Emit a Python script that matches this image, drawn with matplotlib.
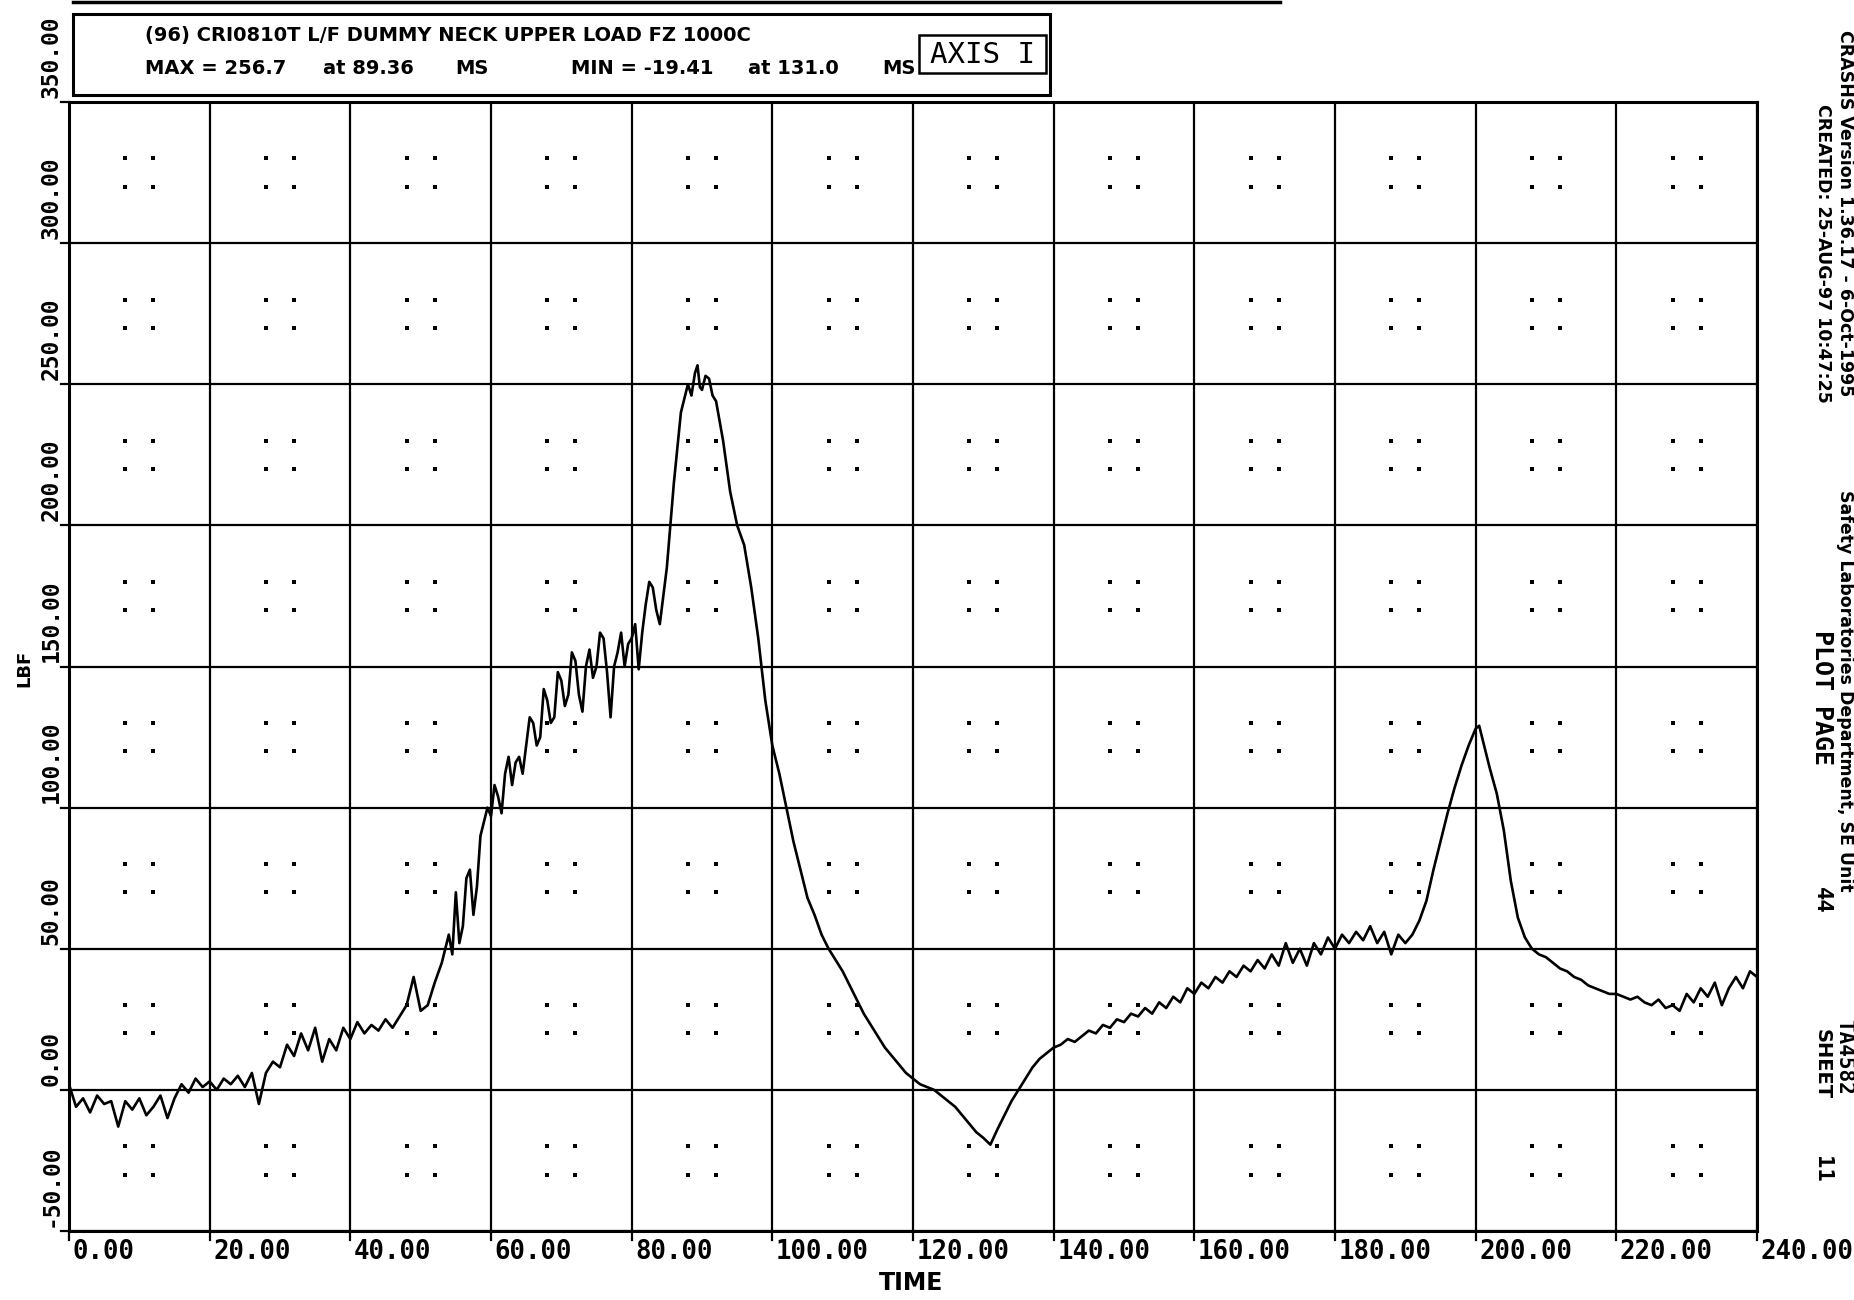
import matplotlib
matplotlib.use("Agg")
import matplotlib.pyplot as plt
from matplotlib.patches import Rectangle
from matplotlib.lines import Line2D
import numpy as np

# ---------------- data ----------------
time_ms = [0, 1, 2, 3, 4, 5, 6, 7, 8, 9, 10, 11, 12, 13, 14, 15, 16, 17, 18, 19,
           20, 21, 22, 23, 24, 25, 26, 27, 28, 29, 30, 31, 32, 33, 34, 35, 36, 37, 38, 39,
           40, 41, 42, 43, 44, 45, 46, 47, 48, 49, 50, 51, 52, 53,
           54, 54.5, 55, 55.5, 56, 56.5, 57, 57.5, 58, 58.5, 59, 59.5,
           60, 60.5, 61, 61.5, 62, 62.5, 63, 63.5, 64, 64.5, 65, 65.5, 66, 66.5, 67, 67.5,
           68, 68.5, 69, 69.5, 70, 70.5, 71, 71.5, 72, 72.5, 73, 73.5, 74, 74.5, 75, 75.5,
           76, 76.5, 77, 77.5, 78, 78.5, 79, 79.5, 80, 80.5, 81, 81.5, 82, 82.5, 83, 83.5,
           84, 84.5, 85, 86, 87, 88, 88.5, 89, 89.36, 89.7, 90, 90.5, 91, 91.5, 92, 93, 94, 95,
           96, 97, 98, 99,
           100, 101, 102, 103, 104, 105, 106, 107, 108, 109, 110, 111, 112, 113, 114, 115, 116, 117, 118, 119,
           120, 121, 122, 123, 124, 125, 126, 127, 128, 129, 130, 131, 132, 133, 134, 135, 136, 137, 138, 139,
           140, 141, 142, 143, 144, 145, 146, 147, 148, 149, 150, 151, 152, 153, 154, 155, 156, 157, 158, 159,
           160, 161, 162, 163, 164, 165, 166, 167, 168, 169, 170, 171, 172, 173, 174, 175, 176, 177, 178, 179,
           180, 181, 182, 183, 184, 185, 186, 187, 188, 189, 190, 191, 192, 193, 194, 195, 196, 197, 198, 199,
           200, 200.5, 201, 202, 203, 204, 205, 206, 207, 208, 209, 210, 211, 212, 213, 214, 215, 216, 217, 218, 219,
           220, 221, 222, 223, 224, 225, 226, 227, 228, 229, 230, 231, 232, 233, 234, 235, 236, 237, 238, 239, 240]

force_lbf = [2, -6, -3, -8, -2, -5, -4, -13, -4, -7, -3, -9, -6, -2, -10, -3, 2, -1, 4, 1,
             3, 0, 4, 2, 5, 1, 6, -5, 6, 10, 8, 16, 12, 20, 14, 22, 10, 18, 14, 22,
             18, 24, 20, 23, 21, 25, 22, 26, 30, 40, 28, 30, 38, 45,
             55, 48, 70, 52, 58, 75, 78, 62, 72, 90, 95, 100,
             97, 108, 104, 98, 112, 118, 108, 116, 118, 112, 122, 132, 130, 122, 125, 142,
             138, 130, 132, 148, 145, 136, 140, 155, 152, 140, 134, 150, 156, 146, 150, 162,
             160, 148, 132, 150, 155, 162, 150, 158, 160, 165, 149, 162, 172, 180, 178, 170,
             165, 175, 185, 215, 240, 250, 246, 254, 256.7, 249, 248, 253, 252, 246, 244, 230, 212, 200,
             193, 178, 160, 138,
             122, 112, 100, 88, 78, 68, 62, 55, 50, 46, 42, 37, 32, 27, 23, 19, 15, 12, 9, 6,
             4, 2, 1, 0, -2, -4, -6, -9, -12, -15, -17, -19.41, -14, -9, -4, 0, 4, 8, 11, 13,
             15, 16, 18, 17, 19, 21, 20, 23, 22, 25, 24, 27, 26, 29, 27, 31, 29, 33, 31, 36,
             34, 38, 36, 40, 38, 42, 40, 44, 42, 46, 43, 48, 44, 52, 45, 50, 44, 52, 48, 54,
             50, 55, 52, 56, 53, 58, 52, 56, 48, 55, 52, 55, 60, 67, 78, 88, 98, 107, 115, 122,
             128, 129, 124, 114, 105, 92, 74, 61, 54, 50, 48, 47, 45, 43, 42, 40, 39, 37, 36, 35, 34,
             34, 33, 32, 33, 31, 30, 32, 29, 30, 28, 34, 31, 36, 33, 38, 30, 36, 40, 36, 42, 40]

x_ticks = [0, 20, 40, 60, 80, 100, 120, 140, 160, 180, 200, 220, 240]
x_tick_labels = ["0.00", "20.00", "40.00", "60.00", "80.00", "100.00", "120.00",
                 "140.00", "160.00", "180.00", "200.00", "220.00", "240.00"]
y_ticks = [-50, 0, 50, 100, 150, 200, 250, 300, 350]
y_tick_labels = ["-50.00", "0.00", "50.00", "100.00", "150.00", "200.00",
                 "250.00", "300.00", "350.00"]

title_line = "(96) CRI0810T L/F DUMMY NECK UPPER LOAD FZ 1000C"
max_text = ["MAX = 256.7", "at 89.36", "MS"]
min_text = ["MIN = -19.41", "at 131.0", "MS"]

# ---------------- figure ----------------
W, H = 1854, 1300
fig = plt.figure(figsize=(W / 100, H / 100), dpi=100)
fig.patch.set_facecolor("white")

def fx(px):
    return px / W

def fy(py):
    return 1 - py / H

L, R, T, B = 69, 1757, 102, 1231
ax = fig.add_axes([fx(L), fy(B), (R - L) / W, (B - T) / H])
ax.set_xlim(0, 240)
ax.set_ylim(-50, 350)

MONO = ["DejaVu Sans Mono"]
SANS = ["DejaVu Sans"]

# major grid
for xv in x_ticks:
    ax.axvline(xv, color="black", lw=1.6, zorder=1)
for yv in y_ticks:
    ax.axhline(yv, color="black", lw=1.6, zorder=1)

# minor dotted grid points
dot_x = [20 * k + o for k in range(12) for o in (8, 12)]
dot_y = [50 * m + o for m in range(-1, 7) for o in (20, 30)]
DX, DY = np.meshgrid(dot_x, dot_y)
ax.plot(DX.ravel(), DY.ravel(), ls="none", marker="s", ms=2.2, color="black",
        mew=0, zorder=1)

# the curve
ax.plot(time_ms, force_lbf, color="black", lw=1.9, zorder=3)

ax.set_xticks([])
ax.set_yticks([])
for s in ax.spines.values():
    s.set_linewidth(2.2)
    s.set_color("black")

# tick labels
for xv, lab in zip(x_ticks, x_tick_labels):
    ax.text(xv + 0.5, -0.019, lab, transform=ax.get_xaxis_transform(),
            ha="left", va="center", fontsize=18.5, family=MONO, fontweight="bold",
            clip_on=False)
    ax.plot([xv, xv], [0, -0.008], transform=ax.get_xaxis_transform(),
            color="black", lw=1.6, clip_on=False)
for yv, lab in zip(y_ticks, y_tick_labels):
    ax.text(-0.0107, yv + 1.5, lab, transform=ax.get_yaxis_transform(),
            ha="left", va="center", rotation=90, rotation_mode="anchor",
            fontsize=16.5, family=MONO, fontweight="bold", clip_on=False)
    ax.plot([0, -0.005], [yv, yv], transform=ax.get_yaxis_transform(),
            color="black", lw=1.6, clip_on=False)

# axis titles
fig.text(fx(911), fy(1283), "TIME", ha="center", va="center", fontsize=17,
         family=SANS, fontweight="bold")
fig.text(fx(24), fy(668), "LBF", ha="center", va="center", fontsize=13,
         family=SANS, fontweight="bold", rotation=90)

# header box
fig.add_artist(Rectangle((fx(73), fy(95)), fx(1050) - fx(73), fy(14) - fy(95),
                         transform=fig.transFigure, fill=False, lw=2.2,
                         edgecolor="black"))
fig.add_artist(Line2D([fx(73), fx(1280)], [fy(2), fy(2)], transform=fig.transFigure,
                      color="black", lw=2.5))
fig.add_artist(Rectangle((fx(919), fy(73)), fx(1046) - fx(919), fy(35) - fy(73),
                         transform=fig.transFigure, fill=False, lw=1.8,
                         edgecolor="black"))
fig.text(fx(982), fy(55), "AXIS I", ha="center", va="center", fontsize=21,
         family=MONO)

HS = 14
HW = "bold"
fig.text(fx(145), fy(36), title_line, ha="left", va="center", fontsize=HS, family=SANS, fontweight=HW)
fig.text(fx(145), fy(68), max_text[0], ha="left", va="center", fontsize=HS, family=SANS, fontweight=HW)
fig.text(fx(323), fy(68), max_text[1], ha="left", va="center", fontsize=HS, family=SANS, fontweight=HW)
fig.text(fx(455), fy(68), max_text[2], ha="left", va="center", fontsize=HS, family=SANS, fontweight=HW)
fig.text(fx(571), fy(68), min_text[0], ha="left", va="center", fontsize=HS, family=SANS, fontweight=HW)
fig.text(fx(748), fy(68), min_text[1], ha="left", va="center", fontsize=HS, family=SANS, fontweight=HW)
fig.text(fx(882), fy(68), min_text[2], ha="left", va="center", fontsize=HS, family=SANS, fontweight=HW)

# right side annotations (rotated, reading top to bottom)
def vtext(x, y, s, size, fam=MONO, weight="bold"):
    fig.text(fx(x), fy(y), s, ha="left", va="center", rotation=-90,
             rotation_mode="anchor", fontsize=size, family=fam, fontweight=weight)

vtext(1845, 30, "CRASHS Version 1.36.17 - 6-Oct-1995", 12.5, SANS)
vtext(1845, 490, "Safety Laboratories Department, SE Unit", 12.5, SANS)
vtext(1823, 104, "CREATED: 25-AUG-97 10:47:25", 12.5, SANS)
vtext(1822, 630, "PLOT PAGE", 18)
vtext(1822, 887, "44", 16)
vtext(1844, 1019, "TA4582", 15)
vtext(1822, 1029, "SHEET", 14, SANS)
vtext(1822, 1156, "11", 16)

fig.savefig("out.png", dpi=100, facecolor="white")
